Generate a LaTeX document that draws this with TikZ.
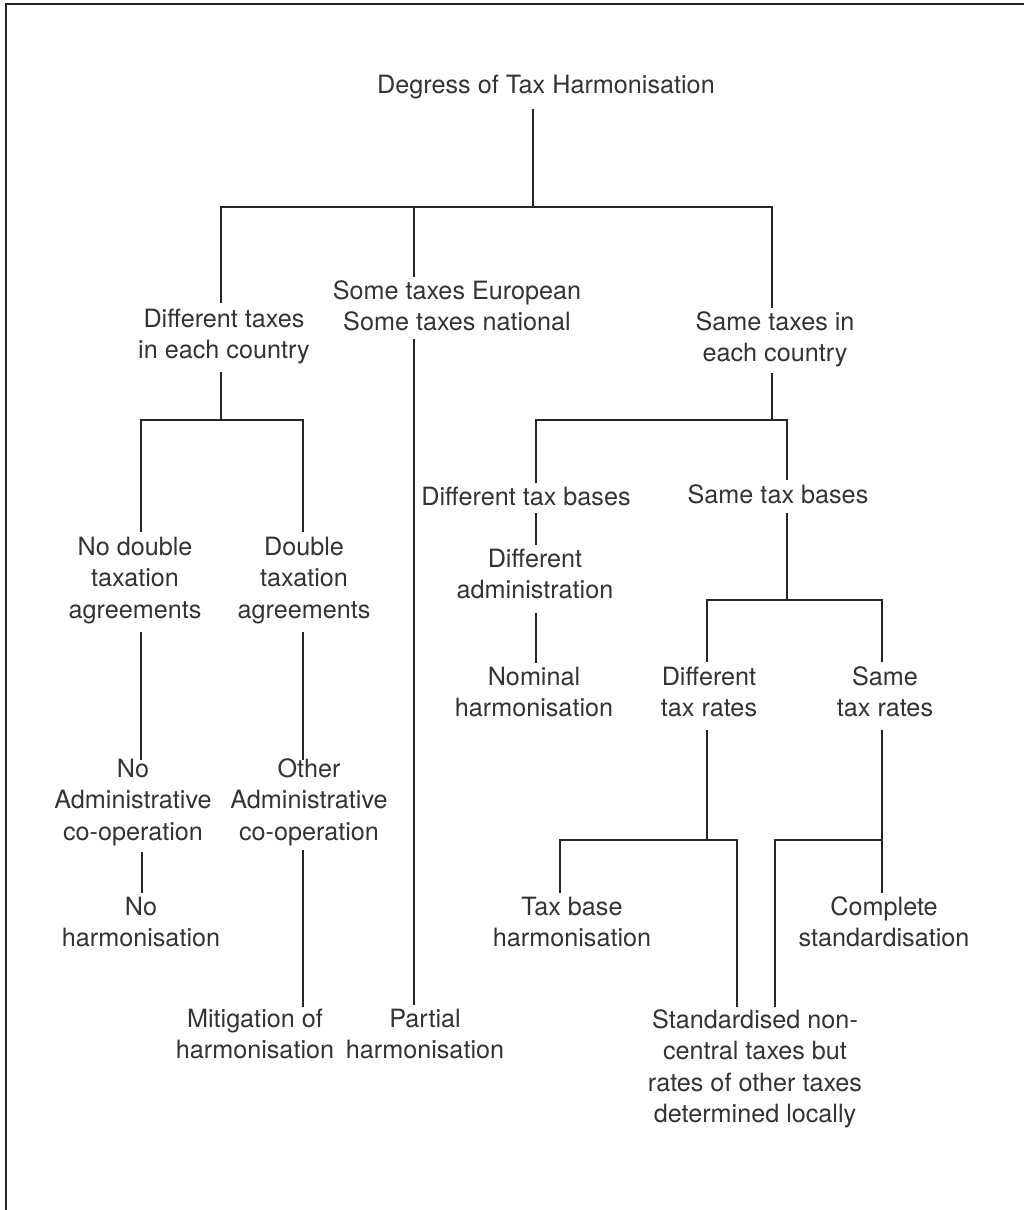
\documentclass[tikz,border=0pt]{standalone}
\usepackage{fontspec}
\setmainfont{TeX Gyre Heros}
\definecolor{ink}{HTML}{262626}
\definecolor{txt}{HTML}{333333}
\newcommand{\fl}{\strut}
\begin{document}
\begin{tikzpicture}[x=1pt,y=-1pt,
  lbl/.style={align=center, inner sep=0pt, anchor=north, text=txt,
    font=\fontsize{25.2}{31.5}\selectfont},
  ln/.style={draw=ink, line width=2.9pt},
  frm/.style={draw=ink, line width=2.4pt}]
\useasboundingbox (0,0) rectangle (1024,1210);
% frame (top and left edges only visible)
\coordinate (fa) at (6,1210);
\coordinate (fb) at (6,4);
\coordinate (fc) at (1024,4);
\draw[frm] (fa) -- (fb) -- (fc);

% ---------- text nodes (y = first baseline - 22) ----------
\node[lbl] (root) at (546,71) {\fl Degress of Tax Harmonisation};
\node[lbl] (difftax) at (224,305) {\fl Different taxes\\in each country};
\node[lbl] (some) at (457,277) {\fl Some taxes European\\Some taxes national};
\node[lbl] (same) at (775,308) {\fl Same taxes in\\each country};
\node[lbl] (nodta) at (135,533) {\fl No double\\taxation\\agreements};
\node[lbl] (dta) at (304,533) {\fl Double\\taxation\\agreements};
\node[lbl] (diffbase) at (526,483) {\fl Different tax bases};
\node[lbl] (samebase) at (778,481) {\fl Same tax bases};
\node[lbl] (diffadmin) at (535,545) {\fl Different\\administration};
\node[lbl] (nominal) at (534,663) {\fl Nominal\\harmonisation};
\node[lbl] (diffrate) at (709,663) {\fl Different\\tax rates};
\node[lbl] (samerate) at (885,663) {\fl Same\\tax rates};
\node[lbl] (noadmin) at (133,755) {\fl No\\Administrative\\co-operation};
\node[lbl] (otheradmin) at (309,755) {\fl Other\\Administrative\\co-operation};
\node[lbl] (noharm) at (141,893) {\fl No\\harmonisation};
\node[lbl] (mitig) at (255,1005) {\fl Mitigation of\\harmonisation};
\node[lbl] (partial) at (425,1005) {\fl Partial\\harmonisation};
\node[lbl] (taxbase) at (572,893) {\fl Tax base\\harmonisation};
\node[lbl] (complete) at (884,893) {\fl Complete\\standardisation};
\node[lbl] (stdnc) at (755,1006) {\fl Standardised non-\\central taxes but\\rates of other taxes\\determined locally};

% ---------- junction coordinates ----------
\coordinate (r0) at (533,109);
\coordinate (r1) at (533,207);
\coordinate (bL) at (221,207);
\coordinate (bR) at (772,207);
\coordinate (mTop) at (414,207);
\coordinate (mA) at (414,277);
\coordinate (dA) at (221,303);
\coordinate (sA) at (772,308);
% left subtree
\coordinate (dB) at (221,372);
\coordinate (dJ) at (221,420);
\coordinate (lL) at (141,420);
\coordinate (lR) at (303,420);
\coordinate (lLa) at (141,532);
\coordinate (lRa) at (303,532);
\coordinate (lLb) at (141,632);
\coordinate (lRb) at (303,632);
\coordinate (lLc) at (141,760);
\coordinate (lRc) at (303,760);
\coordinate (nA) at (142,852);
\coordinate (nB) at (142,893);
\coordinate (oA) at (303,850);
\coordinate (oB) at (303,1007);
% middle
\coordinate (mB) at (414,339);
\coordinate (mC) at (414,1005);
% right subtree
\coordinate (sB) at (772,373);
\coordinate (sJ) at (772,420);
\coordinate (rL) at (536,420);
\coordinate (rR) at (787,420);
\coordinate (rLa) at (536,483);
\coordinate (rLb) at (536,513);
\coordinate (rLc) at (536,545);
\coordinate (rLd) at (536,613);
\coordinate (rLe) at (536,663);
\coordinate (rRa) at (787,480);
\coordinate (rRb) at (787,513);
\coordinate (rRj) at (787,600);
\coordinate (tL) at (707,600);
\coordinate (tR) at (882,600);
\coordinate (tLa) at (707,662);
\coordinate (tRa) at (882,662);
\coordinate (tLb) at (707,730);
\coordinate (tRb) at (882,730);
\coordinate (tLj) at (707,840);
\coordinate (tRj) at (882,840);
\coordinate (uL) at (560,840);
\coordinate (uR) at (737,840);
\coordinate (uLb) at (560,893);
\coordinate (uRb) at (737,1007);
\coordinate (wL) at (775,840);
\coordinate (wLb) at (775,1007);
\coordinate (wRb) at (882,893);

% ---------- connectors ----------
\draw[ln] (r0) -- (r1);
\draw[ln] (dA) -- (bL) -- (bR) -- (sA);
\draw[ln] (mTop) -- (mA);
\draw[ln] (mB) -- (mC);
\draw[ln] (dB) -- (dJ);
\draw[ln] (lLa) -- (lL) -- (lR) -- (lRa);
\draw[ln] (lLb) -- (lLc);
\draw[ln] (lRb) -- (lRc);
\draw[ln] (nA) -- (nB);
\draw[ln] (oA) -- (oB);
\draw[ln] (sB) -- (sJ);
\draw[ln] (rLa) -- (rL) -- (rR) -- (rRa);
\draw[ln] (rLb) -- (rLc);
\draw[ln] (rLd) -- (rLe);
\draw[ln] (rRb) -- (rRj);
\draw[ln] (tLa) -- (tL) -- (tR) -- (tRa);
\draw[ln] (tLb) -- (tLj);
\draw[ln] (uLb) -- (uL) -- (uR) -- (uRb);
\draw[ln] (tRb) -- (wRb);
\draw[ln] (wLb) -- (wL) -- (tRj);
\end{tikzpicture}
\end{document}
